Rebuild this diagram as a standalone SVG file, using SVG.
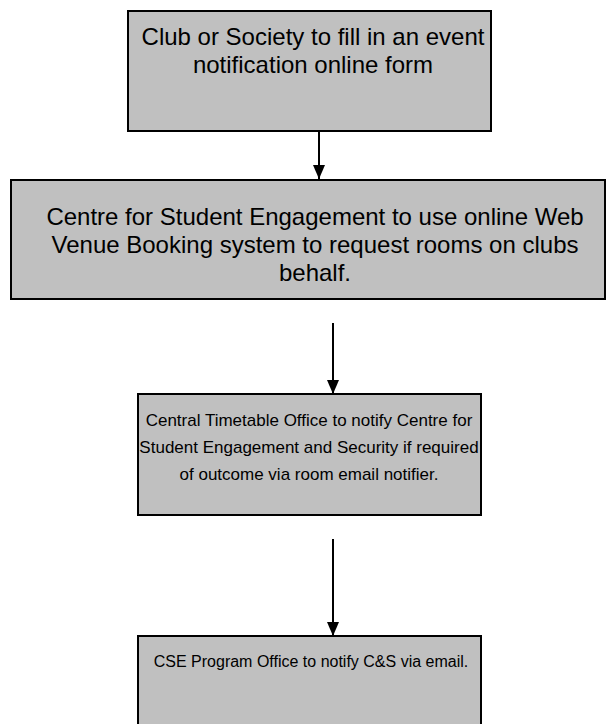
<svg xmlns="http://www.w3.org/2000/svg" width="616" height="724" viewBox="0 0 616 724">
<style>
.box{fill:#c0c0c0;stroke:#000;stroke-width:2}
.t{font-family:"Liberation Sans",Arial,sans-serif;fill:#000;text-anchor:middle}
.big{font-size:24px}
.small{font-size:17px}
.a{stroke:#000;stroke-width:2;fill:none}
</style>
<defs>
<marker id="ah" markerWidth="12" markerHeight="14" refX="6" refY="14" orient="auto-start-reverse" markerUnits="userSpaceOnUse" viewBox="0 0 12 14">
<path d="M0,0 L12,0 L6,14 Z" fill="#000" transform="rotate(-90 6 7)"/>
</marker>
<marker id="ah2" markerWidth="14" markerHeight="12" refX="14" refY="6" orient="auto" markerUnits="userSpaceOnUse" viewBox="0 0 14 12">
<path d="M0,0 L14,6 L0,12 Z" fill="#000"/>
</marker>
</defs>
<rect width="616" height="724" fill="#fff"/>
<g id="node1">
<rect class="box" x="128" y="11" width="363" height="120"/>
<text class="t big" x="313" y="45">Club or Society to fill in an event</text>
<text class="t big" x="313" y="73">notification online form</text>
</g>
<g id="node2">
<rect class="box" x="11" y="180" width="594" height="119"/>
<text class="t big" x="315" y="225">Centre for Student Engagement to use online Web</text>
<text class="t big" x="315" y="253">Venue Booking system to request rooms on clubs</text>
<text class="t big" x="315" y="281">behalf.</text>
</g>
<g id="node3">
<rect class="box" x="138" y="394" width="343" height="121"/>
<text class="t small" x="309" y="426">Central Timetable Office to notify Centre for</text>
<text class="t small" x="309" y="453">Student Engagement and Security if required</text>
<text class="t small" x="309" y="480">of outcome via room email notifier.</text>
</g>
<g id="node4">
<rect class="box" x="138" y="636" width="343" height="100"/>
<text class="t" font-size="16" x="311" y="667">CSE Program Office to notify C&amp;S via email.</text>
</g>
<g id="connectors">
<line class="a" x1="319" y1="131" x2="319" y2="179" marker-end="url(#ah2)"/>
<line class="a" x1="333" y1="323" x2="333" y2="394" marker-end="url(#ah2)"/>
<line class="a" x1="333" y1="539" x2="333" y2="636" marker-end="url(#ah2)"/>
</g>
</svg>
